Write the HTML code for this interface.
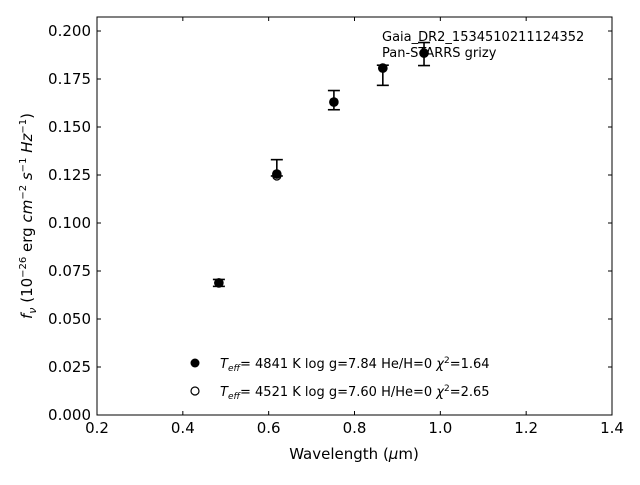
<!DOCTYPE html>
<html><head><meta charset="utf-8"><style>
body{margin:0;background:#fff;}
svg text{font-family:"DejaVu Sans","Liberation Sans",sans-serif;}
</style></head><body>
<svg id="chart" width="640" height="480" xmlns="http://www.w3.org/2000/svg">
<rect x="0" y="0" width="640" height="480" fill="#fff"/>
<g id="marks"></g>
<rect x="97" y="17" width="515" height="398" fill="none" stroke="#000" stroke-width="1"/>
<g id="axes"></g>
<text x="382" y="41" font-size="13">Gaia_DR2_1534510211124352</text>
<text x="382" y="57" font-size="13">Pan-STARRS grizy</text>
<text x="354" y="459" font-size="15" text-anchor="middle">Wavelength (<tspan font-style="italic">μ</tspan>m)</text>
<text transform="translate(32,216) rotate(-90)" font-size="15" text-anchor="middle"><tspan font-style="italic">f</tspan><tspan font-size="11" dy="4" font-style="italic">ν</tspan><tspan dy="-4"> (10</tspan><tspan font-size="10" dy="-6">−26</tspan><tspan dy="6"> erg </tspan><tspan font-style="italic">cm</tspan><tspan font-size="10" dy="-6">−2</tspan><tspan dy="6"> </tspan><tspan font-style="italic">s</tspan><tspan font-size="10" dy="-6">−1</tspan><tspan dy="6"> </tspan><tspan font-style="italic">Hz</tspan><tspan font-size="10" dy="-6">−1</tspan><tspan dy="6">)</tspan></text>
<g>
<circle cx="195" cy="363" r="4.5" fill="#000"/>
<text x="220" y="368" font-size="13"><tspan font-style="italic">T</tspan><tspan font-style="italic" font-size="9" dy="3">eff</tspan><tspan dy="-3">=  4841 K  log g=7.84  He/H=0  </tspan><tspan font-style="italic">χ</tspan><tspan font-size="9" dy="-5">2</tspan><tspan dy="5">=1.64</tspan></text>
<circle cx="195" cy="391" r="4" fill="#fff" stroke="#000" stroke-width="1.2"/>
<text x="220" y="396" font-size="13"><tspan font-style="italic">T</tspan><tspan font-style="italic" font-size="9" dy="3">eff</tspan><tspan dy="-3">=  4521 K  log g=7.60  H/He=0  </tspan><tspan font-style="italic">χ</tspan><tspan font-size="9" dy="-5">2</tspan><tspan dy="5">=2.65</tspan></text>
</g>
</svg>
<script>
const wavelengths=[0.484,0.619,0.752,0.866,0.962];
const fluxes=[0.0688,0.1255,0.1630,0.1807,0.1885];
const errLow=[0.0018,0.0010,0.0040,0.0090,0.0065];
const errHigh=[0.0018,0.0075,0.0060,0.0015,0.0055];
const model2=[0.0688,0.1245,0.1630,0.1807,0.1885];
const xTicks=[0.2,0.4,0.6,0.8,1.0,1.2,1.4];
const yTicks=[0,0.025,0.05,0.075,0.1,0.125,0.15,0.175,0.2];
const X0=97,X1=612,Y0=415,Y1=17,xmin=0.2,xmax=1.4,ymin=0,ymax=0.2073;
const sx=v=>X0+(v-xmin)/(xmax-xmin)*(X1-X0);
const sy=v=>Y0-(v-ymin)/(ymax-ymin)*(Y0-Y1);
const NS="http://www.w3.org/2000/svg";
function mk(tag,attrs,parent){const e=document.createElementNS(NS,tag);for(const k in attrs)e.setAttribute(k,attrs[k]);parent.appendChild(e);return e;}
const axes=document.getElementById('axes'),marks=document.getElementById('marks');
xTicks.forEach(t=>{const x=sx(t);
 for(const [a,b] of [[Y0,Y0-4],[Y1,Y1+4]]){const l=mk('line',{x1:x,x2:x,y1:a,y2:b,stroke:'#000'},axes);
 
 }
 const tx=mk('text',{x:x,y:433,'font-size':15,'text-anchor':'middle'},axes);tx.textContent=t.toFixed(1);
 
 
});
yTicks.forEach(t=>{const y=sy(t);
 for(const [a,b] of [[X0,X0+4],[X1,X1-4]]){const l=mk('line',{x1:a,x2:b,y1:y,y2:y,stroke:'#000'},axes);
 
 }
 const tx=mk('text',{x:91,y:y+5,'font-size':15,'text-anchor':'end'},axes);tx.textContent=t.toFixed(3);
 
 
});
wavelengths.forEach((w,i)=>{const x=sx(w);
 const c2=mk('circle',{cx:x,cy:sy(model2[i]),r:4,fill:'#fff',stroke:'#000','stroke-width':1.2},marks);
 
 
 const yt=sy(fluxes[i]+errHigh[i]),yb=sy(fluxes[i]-errLow[i]);
 const g=mk('g',{stroke:'#000','stroke-width':1.6},marks);
 
 
 mk('line',{x1:x,x2:x,y1:yt,y2:yb},g);
 mk('line',{x1:x-6,x2:x+6,y1:yt,y2:yt},g);
 mk('line',{x1:x-6,x2:x+6,y1:yb,y2:yb},g);
 const c=mk('circle',{cx:x,cy:sy(fluxes[i]),r:4.8,fill:'#000'},marks);
 
 
});
</script>
</body></html>
